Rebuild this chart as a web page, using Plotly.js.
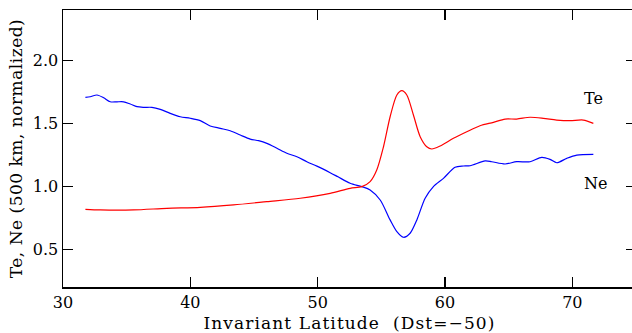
<!DOCTYPE html>
<html>
<head>
<meta charset="utf-8">
<script src="https://cdn.plot.ly/plotly-3.0.1.min.js"></script>
<style>
html,body{margin:0;padding:0;overflow:hidden;background:#fff;}
#chart{width:640px;height:333px;}
.xtitle{letter-spacing:1.1px;}
.ytitle{letter-spacing:0.5px;}
</style>
</head>
<body>
<div id="chart"></div>
<script>
// Ne (blue) curve: invariant latitude vs normalized value
const neLat = [31.76,32.14,32.67,33.19,33.71,34.24,34.76,35.28,35.81,36.33,36.98,37.64,38.42,39.21,39.99,40.78,41.56,42.35,43.13,43.92,44.70,45.36,46.01,46.80,47.58,48.37,49.15,49.94,50.98,51.6,52.55,53.47,54.12,54.91,55.69,56.22,56.74,57.26,57.79,58.44,59.09,59.88,60.79,61.45,61.97,63.15,63.67,64.72,65.63,66.68,67.60,68.25,68.78,69.56,70.35,71.65];
const neVal = [1.706,1.711,1.725,1.703,1.671,1.671,1.671,1.653,1.632,1.627,1.627,1.611,1.579,1.552,1.540,1.521,1.479,1.460,1.441,1.407,1.375,1.362,1.341,1.302,1.262,1.235,1.195,1.160,1.108,1.075,1.024,0.997,0.971,0.891,0.733,0.640,0.595,0.627,0.733,0.905,0.997,1.063,1.151,1.161,1.163,1.201,1.195,1.177,1.195,1.195,1.230,1.214,1.187,1.222,1.248,1.254];
// Te (red) curve
const teLat = [31.76,32.93,35.54,38.16,40.78,43.39,46.01,48.63,50.98,52.55,53.47,54.12,54.64,55.17,55.69,56.22,56.61,57.00,57.52,58.05,58.57,58.96,59.62,60.66,61.71,62.75,63.80,64.72,65.63,66.68,67.72,68.77,69.82,70.86,71.65];
const teVal = [0.817,0.812,0.812,0.825,0.833,0.852,0.878,0.905,0.944,0.984,0.997,1.037,1.129,1.314,1.552,1.725,1.759,1.725,1.566,1.394,1.314,1.296,1.320,1.381,1.433,1.481,1.508,1.534,1.534,1.548,1.540,1.526,1.521,1.526,1.500];
// labels
const labelText = ["Te","Ne"];
const labelX = [71.7,71.8];
const labelY = [1.70,1.026];
const xTicks = [30,40,50,60,70];
const yTicks = [0.5,1.0,1.5,2.0];

const fontFam = "DejaVu Serif, serif";
const traces = [
  {x: neLat, y: neVal, mode: "lines", line: {color: "#0000ff", width: 1.2, shape: "spline", smoothing: 0.8}, hoverinfo: "skip"},
  {x: teLat, y: teVal, mode: "lines", line: {color: "#ff0000", width: 1.2, shape: "spline", smoothing: 0.8}, hoverinfo: "skip"}
];
const annotations = labelText.map((t, i) => ({
  x: labelX[i], y: labelY[i], xref: "x", yref: "y", text: t, showarrow: false,
  font: {family: fontFam, size: 16, color: "#000"}
}));
const axisCommon = {
  showline: true, linecolor: "#000", linewidth: 1.5, mirror: "ticks",
  ticks: "inside", ticklen: 10, tickwidth: 1.2, tickcolor: "#000",
  showgrid: false, zeroline: false,
  tickfont: {family: fontFam, size: 16, color: "#000"}
};
const layout = {
  width: 640, height: 333,
  margin: {l: 63, r: 4, t: 10, b: 46},
  paper_bgcolor: "#fff", plot_bgcolor: "#fff",
  showlegend: false,
  xaxis: Object.assign({}, axisCommon, {
    range: [30, 75], tickvals: xTicks, ticktext: xTicks.map(String),
    title: {text: "Invariant Latitude  (Dst=\u221250)", font: {family: fontFam, size: 17, color: "#000"}, standoff: 6}
  }),
  yaxis: Object.assign({}, axisCommon, {
    range: [0.2, 2.4], tickvals: yTicks, ticktext: yTicks.map(v => v.toFixed(1)),
    title: {text: "Te, Ne (500 km, normalized)", font: {family: fontFam, size: 17, color: "#000"}, standoff: 6}
  }),
  annotations: annotations
};
Plotly.newPlot("chart", traces, layout, {staticPlot: true, displayModeBar: false});
</script>
</body>
</html>
